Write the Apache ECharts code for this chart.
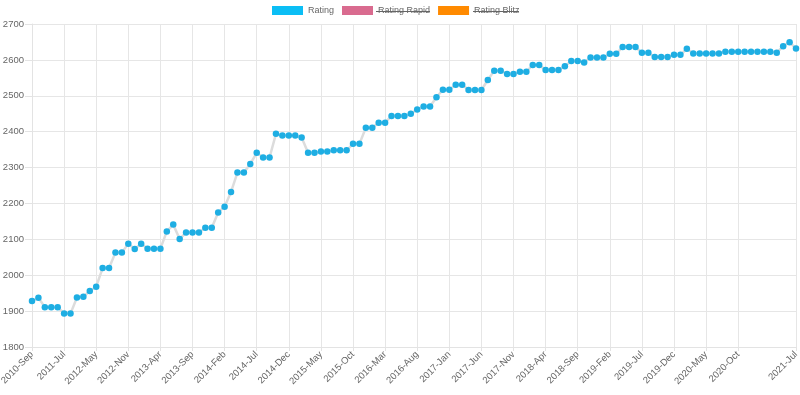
<!DOCTYPE html>
<html>
<head>
<meta charset="utf-8">
<script src="https://cdn.jsdelivr.net/npm/echarts@6/dist/echarts.min.js"></script>
<style>
html,body{margin:0;padding:0;background:#fff;}
#chart{width:800px;height:395px;}
</style>
</head>
<body>
<div id="chart"></div>
<script>
var categories = [
  "2010-Sep","2010-Nov","2011-Jan","2011-Mar","2011-May","2011-Jul","2011-Sep","2011-Nov",
  "2012-Jan","2012-Mar","2012-May","2012-Jul","2012-Aug","2012-Sep","2012-Oct","2012-Nov","2012-Dec",
  "2013-Jan","2013-Feb","2013-Mar","2013-Apr","2013-May","2013-Jun","2013-Jul","2013-Aug","2013-Sep","2013-Oct","2013-Nov","2013-Dec",
  "2014-Jan","2014-Feb","2014-Mar","2014-Apr","2014-May","2014-Jun","2014-Jul","2014-Aug","2014-Sep","2014-Oct","2014-Nov","2014-Dec",
  "2015-Jan","2015-Feb","2015-Mar","2015-Apr","2015-May","2015-Jun","2015-Jul","2015-Aug","2015-Sep","2015-Oct","2015-Nov","2015-Dec",
  "2016-Jan","2016-Feb","2016-Mar","2016-Apr","2016-May","2016-Jun","2016-Jul","2016-Aug","2016-Sep","2016-Oct","2016-Nov","2016-Dec",
  "2017-Jan","2017-Feb","2017-Mar","2017-Apr","2017-May","2017-Jun","2017-Jul","2017-Aug","2017-Sep","2017-Oct","2017-Nov","2017-Dec",
  "2018-Jan","2018-Feb","2018-Mar","2018-Apr","2018-May","2018-Jun","2018-Jul","2018-Aug","2018-Sep","2018-Oct","2018-Nov","2018-Dec",
  "2019-Jan","2019-Feb","2019-Mar","2019-Apr","2019-May","2019-Jun","2019-Jul","2019-Aug","2019-Sep","2019-Oct","2019-Nov","2019-Dec",
  "2020-Jan","2020-Feb","2020-Mar","2020-Apr","2020-May","2020-Jun","2020-Jul","2020-Aug","2020-Sep","2020-Oct","2020-Nov","2020-Dec",
  "2021-Jan","2021-Feb","2021-Mar","2021-Apr","2021-May","2021-Jun","2021-Jul"
];

var rating = [
  1928,1937,1911,1911,1911,1893,1893,1938,1940,1956,
  1968,2020,2020,2063,2063,2088,2073,2088,2074,2074,
  2074,2122,2141,2101,2119,2119,2119,2132,2132,2175,
  2191,2232,2286,2286,2310,2341,2328,2328,2394,2389,
  2389,2389,2384,2341,2341,2345,2345,2348,2348,2348,
  2366,2366,2411,2411,2425,2425,2444,2444,2444,2450,
  2462,2470,2470,2496,2517,2517,2531,2531,2516,2516,
  2516,2544,2570,2570,2561,2561,2567,2567,2586,2586,
  2572,2572,2572,2582,2597,2597,2593,2607,2607,2607,
  2617,2617,2636,2636,2636,2620,2620,2608,2608,2608,
  2614,2614,2631,2618,2618,2618,2618,2618,2623,2623,
  2623,2623,2623,2623,2623,2623,2620,2638,2649,2632
];

var ratingRapid = [];
var ratingBlitz = [];

var seriesNames = ["Rating", "Rating Rapid", "Rating Blitz"];
var legendColors = ["#0bbef5", "#d96b8f", "#ff8a00"];

var yTicks = [1800, 1900, 2000, 2100, 2200, 2300, 2400, 2500, 2600, 2700];

var FONT = 'Arial, "Liberation Sans", Helvetica, sans-serif';
var lastIdx = categories.length - 1;
function showCat(i) { return (i % 5 === 0 && i <= lastIdx - 9) || i === lastIdx; }

var chart = echarts.init(document.getElementById('chart'), null, {renderer: 'canvas'});
chart.setOption({
  animation: false,
  backgroundColor: '#fff',
  textStyle: {fontFamily: FONT},
  legend: {
    left: 272,
    top: 6,
    padding: 0,
    itemWidth: 31,
    itemHeight: 9,
    itemGap: 8,
    icon: 'rect',
    selectedMode: false,
    textStyle: {fontSize: 9, color: '#666', fontFamily: FONT},
    data: seriesNames.map(function (n, i) {
      return {name: n, itemStyle: {color: legendColors[i]}};
    })
  },
  grid: {left: 32, right: 4, top: 24, bottom: 48, containLabel: false, outerBoundsMode: 'none'},
  xAxis: {
    type: 'category',
    data: categories,
    boundaryGap: false,
    axisLine: {show: true, lineStyle: {color: '#e3e3e3', width: 1}},
    axisTick: {show: true, length: 4, interval: function (i) { return showCat(i); }, lineStyle: {color: '#e3e3e3'}},
    splitLine: {show: true, interval: function (i) { return showCat(i); }, lineStyle: {color: '#e6e6e6', width: 1}},
    axisLabel: {
      interval: function (i) { return showCat(i); },
      rotate: 45,
      margin: 6,
      fontSize: 9.5,
      color: '#666',
      fontFamily: FONT
    }
  },
  yAxis: {
    type: 'value',
    min: yTicks[0],
    max: yTicks[yTicks.length - 1],
    interval: 100,
    axisLine: {show: true, lineStyle: {color: '#e3e3e3', width: 1}},
    axisTick: {show: true, length: 7, lineStyle: {color: '#e3e3e3'}},
    splitLine: {show: true, lineStyle: {color: '#e6e6e6', width: 1}},
    axisLabel: {margin: 8, fontSize: 9.5, color: '#666', fontFamily: FONT,
      formatter: function (v) { return String(v); }}
  },
  series: [
    {
      name: seriesNames[0],
      type: 'line',
      data: rating,
      smooth: false,
      showAllSymbol: true,
      symbol: 'circle',
      symbolSize: 6.5,
      lineStyle: {color: '#dcdcdc', width: 2.5},
      itemStyle: {color: '#1eaee3'},
      z: 3
    },
    {name: seriesNames[1], type: 'line', data: ratingRapid, itemStyle: {color: legendColors[1]}},
    {name: seriesNames[2], type: 'line', data: ratingBlitz, itemStyle: {color: legendColors[2]}}
  ],
  graphic: [
    {type: 'line', shape: {x1: 376, y1: 11.5, x2: 430, y2: 11.5}, style: {stroke: '#666', lineWidth: 1}, silent: true},
    {type: 'line', shape: {x1: 473, y1: 11.5, x2: 519, y2: 11.5}, style: {stroke: '#666', lineWidth: 1}, silent: true}
  ]
});
</script>
</body>
</html>
